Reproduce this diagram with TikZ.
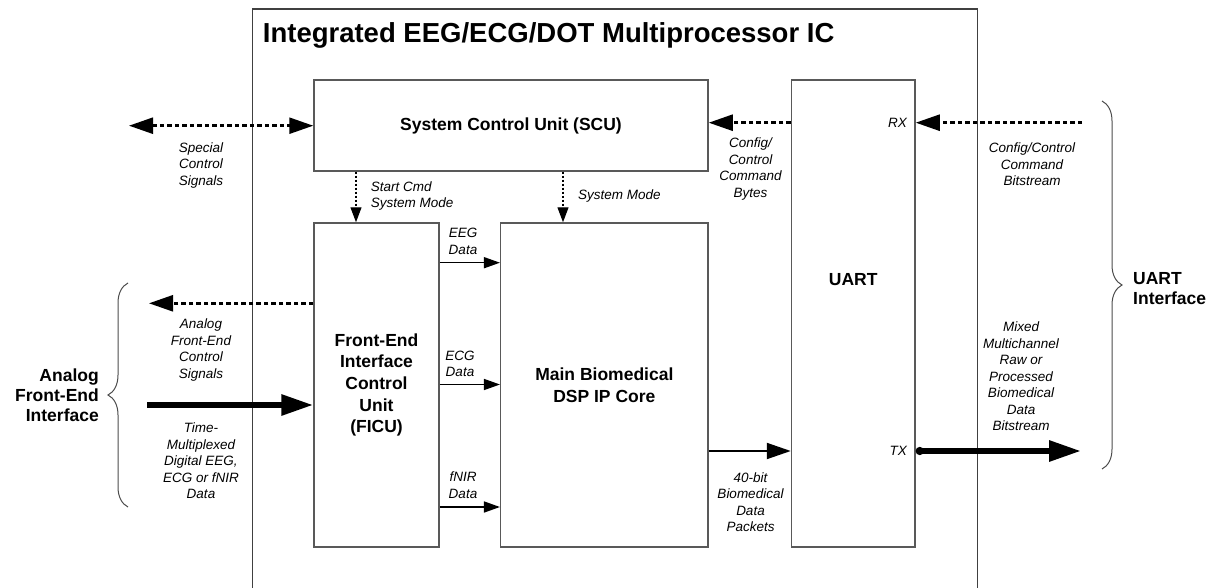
\documentclass[tikz,border=0pt]{standalone}
\usepackage{fontspec}
\setmainfont{Liberation Sans}
\usetikzlibrary{arrows.meta,decorations.pathreplacing}

\tikzset{
  bigtip/.tip={Triangle[length=24pt,width=16pt]},
  smalltip/.tip={Triangle[length=16pt,width=11pt]},
  thintip/.tip={Triangle[length=15pt,width=11pt]},
  fattip/.tip={Triangle[length=32pt,width=20pt]},
}

\begin{document}
\begin{tikzpicture}[x=1pt, y=-1pt,
    icbox/.style={rectangle, draw=black!75, line width=1.2pt, inner sep=0pt},
    block/.style={rectangle, draw=black!65, line width=1.5pt, inner sep=0pt, align=center,
      font=\fontsize{17.5}{21.7}\selectfont\bfseries},
    note/.style={inner sep=0pt, align=center, font=\fontsize{13.5}{16.5}\selectfont\itshape},
    side/.style={inner sep=0pt, font=\fontsize{17.5}{20}\selectfont\bfseries},
    ctrl/.style={line width=2.5pt, dash pattern=on 4.5pt off 3pt, -bigtip},
    cmd/.style={line width=1.2pt, dash pattern=on 2pt off 2pt, -thintip},
    data/.style={line width=1.5pt, -smalltip},
    packet/.style={line width=2pt, -bigtip},
    stream/.style={line width=6pt, -fattip},
    ifacebrace/.style={decorate, decoration={brace, amplitude=20pt}, draw=black!70, line width=1pt}]
    \useasboundingbox (0,0) rectangle (1220,588);

    % chip outline and title
    \node[icbox, minimum width=725, minimum height=600] (ic) at (615.2,309) {};
    \node[anchor=base west, inner sep=0pt, font=\fontsize{27.5}{30}\selectfont\bfseries] (title) at (262.7,42.3) {Integrated EEG/ECG/DOT Multiprocessor IC};

    % blocks
    \node[block, minimum width=394, minimum height=91] (scu) at (511,125.5) {System Control Unit (SCU)};
    \node[block, minimum width=125, minimum height=324] (ficu) at (376.5,385) {Front-End\\Interface\\Control\\Unit\\(FICU)};
    \node[block, minimum width=207.3, minimum height=324] (dsp) at (604.35,385) {Main Biomedical\\DSP IP Core};
    \node[block, minimum width=123.5, minimum height=467] (uart) at (853.25,313.5) {};
    \node[block, draw=none] (uartname) at (853.25,280) {UART};

    % free ends
    \coordinate (scsend) at (129,125.7);
    \coordinate (rxend) at (1082,122.7);
    \coordinate (afeend) at (149,303.3);
    \coordinate (tdmstart) at (147,405);
    \coordinate (txend) at (1081,451);
    \coordinate (cmdx) at (356,0);
    \coordinate (modex) at (563,0);
    \coordinate (afetop) at (128,283);
    \coordinate (afebot) at (128,507);
    \coordinate (uarttop) at (1102,101);
    \coordinate (uartbot) at (1102,469);

    % control paths
    \draw[ctrl, bigtip-bigtip] (scsend) -- (scu.west |- scsend);
    \draw[ctrl] (uart.west |- rxend) -- (scu.east |- rxend);
    \draw[ctrl] (rxend) -- (uart.east |- rxend);
    \draw[ctrl] (ficu.west |- afeend) -- (afeend);
    \draw[cmd] (scu.south -| cmdx) -- (ficu.north -| cmdx);
    \draw[cmd] (scu.south -| modex) -- (dsp.north -| modex);

    % data paths
    \draw[stream] (tdmstart) -- (ficu.west |- tdmstart);
    \draw[data] (ficu.east |- 0,262.7) -- (dsp.west |- 0,262.7);
    \draw[data] (ficu.east |- 0,384.5) -- (dsp.west |- 0,384.5);
    \draw[data] (ficu.east |- 0,507) -- (dsp.west |- 0,507);
    \draw[packet] (dsp.east |- txend) -- (uart.west |- txend);
    \draw[stream, {Circle[length=8pt]}-fattip] (uart.east |- txend) -- (txend);

    % interface braces
    \draw[ifacebrace] (afebot) -- (afetop);
    \draw[ifacebrace] (uarttop) -- (uartbot);

    % labels
    \node[note] (scslbl) at (201,165.5) {Special\\Control\\Signals};
    \node[note, align=left, anchor=west] (cmdlbl) at (370.7,196) {Start Cmd\\System Mode};
    \node[note, align=left, anchor=west] (modelbl) at (578,196) {System Mode};
    \node[note] (cfglbl) at (750.5,169) {Config/\\Control\\Command\\Bytes};
    \node[note, anchor=east] (rxlbl) at (907,122.7) {RX};
    \node[note] (bitlbl) at (1032,164.5) {Config/Control\\Command\\Bitstream};
    \node[note] (afelbl) at (201,350) {Analog\\Front-End\\Control\\Signals};
    \node[note] (tdmlbl) at (201,461) {Time-\\Multiplexed\\Digital EEG,\\ECG or fNIR\\Data};
    \node[note] (eeglbl) at (463,241.5) {EEG\\Data};
    \node[note] (ecglbl) at (460,364) {ECG\\Data};
    \node[note] (fnirlbl) at (463,485) {fNIR\\Data};
    \node[note] (pktlbl) at (750.5,502) {40-bit\\Biomedical\\Data\\Packets};
    \node[note, anchor=east] (txlbl) at (907,451) {TX};
    \node[note] (mixlbl) at (1021,376.5) {Mixed\\Multichannel\\Raw or\\Processed\\Biomedical\\Data\\Bitstream};
    \node[side, align=right, anchor=east] (afeside) at (99,395) {Analog\\Front-End\\Interface};
    \node[side, align=left, anchor=west] (uartside) at (1133,289) {UART\\Interface};
\end{tikzpicture}
\end{document}
